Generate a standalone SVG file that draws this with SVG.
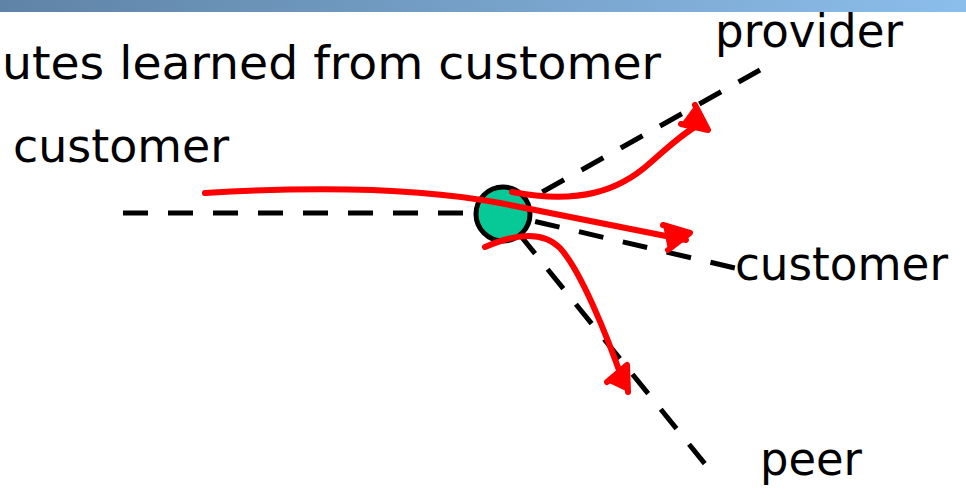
<svg xmlns="http://www.w3.org/2000/svg" width="966" height="501" viewBox="0 0 966 501">
  <defs>
    <linearGradient id="bar" x1="0" y1="0" x2="1" y2="0">
      <stop offset="0" stop-color="#5f83a6"/>
      <stop offset="1" stop-color="#8cbeeb"/>
    </linearGradient>
  </defs>
  <style>
    .lbl { font-family: "DejaVu Sans", "Liberation Sans", sans-serif; font-size: 46px; fill: #000; }
    .dash { fill: none; stroke: #000; stroke-width: 5; stroke-dasharray: 25 20; }
    .route { fill: none; stroke: #ff0000; stroke-width: 6; stroke-linecap: round; }
    .head { fill: #ff0000; stroke: #ff0000; stroke-width: 6; stroke-linejoin: round; stroke-linecap: round; }
  </style>
  <rect x="0" y="0" width="966" height="12" fill="url(#bar)"/>
  <text class="lbl" x="2" y="79" textLength="659" lengthAdjust="spacingAndGlyphs">utes learned from customer</text>
  <g id="connectors">
    <line class="dash" x1="123" y1="213" x2="503" y2="213"/>
    <line class="dash" x1="503" y1="214" x2="760" y2="70"/>
    <line class="dash" x1="503" y1="214" x2="735" y2="268" stroke-dashoffset="12"/>
    <line class="dash" x1="503" y1="214" x2="705" y2="464" stroke-dashoffset="19"/>
  </g>
  <g id="router">
    <circle cx="503" cy="214" r="27" fill="#06c997" stroke="#000" stroke-width="5"/>
  </g>
  <g id="routes">
    <path class="route" d="M205,193 C320,186 420,188 500,203 L686,240"/>
    <path class="head" d="M663,225 L690,233 L668,250"/>
    <path class="route" d="M512,192 C580,205 620,190 650,163 C670,145 685,132 700,124"/>
    <path class="head" d="M695,105 L708,130 L681,124"/>
    <path class="route" d="M485,247 C510,236 540,228 560,248 C580,270 605,330 624,384"/>
    <path class="head" d="M607,382 L627,365 L628,392"/>
  </g>
  <g id="provider"><text class="lbl" x="715" y="47" textLength="188" lengthAdjust="spacingAndGlyphs">provider</text></g>
  <g id="customer-left"><text class="lbl" x="13" y="162" textLength="216" lengthAdjust="spacingAndGlyphs">customer</text></g>
  <g id="customer-right"><text class="lbl" x="735" y="280" textLength="213" lengthAdjust="spacingAndGlyphs">customer</text></g>
  <g id="peer"><text class="lbl" x="760" y="475" textLength="102" lengthAdjust="spacingAndGlyphs">peer</text></g>
</svg>
